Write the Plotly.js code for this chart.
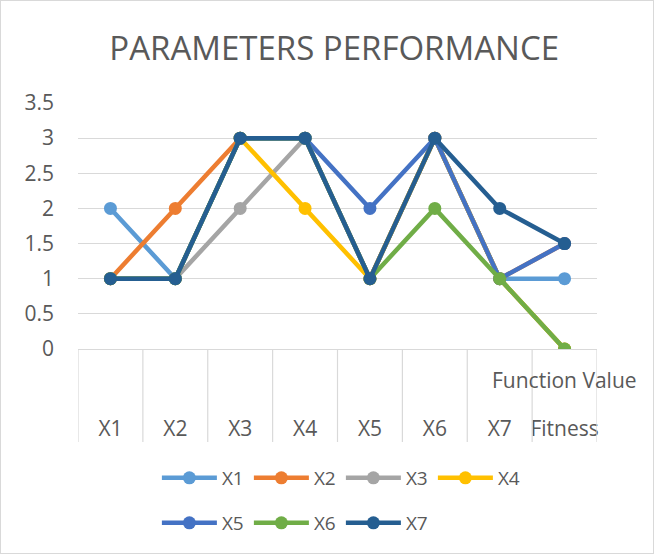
<!DOCTYPE html>
<html>
<head>
<meta charset="utf-8">
<script src="https://cdn.plot.ly/plotly-3.0.1.min.js"></script>
<style>
  html, body { margin: 0; padding: 0; background: #ffffff; }
  #wrap { position: relative; width: 654px; height: 554px; }
  #chart { width: 654px; height: 554px; }
  #frame { position: absolute; left: 0; top: 0; width: 652px; height: 552px; border: 1px solid #d9d9d9; pointer-events: none; }
</style>
</head>
<body>
<div id="wrap"><div id="chart"></div><div id="frame"></div></div>
<script>
// Data
const categories = ["X1", "X2", "X3", "X4", "X5", "X6", "X7", "Function Value Fitness"];
const tickLabels = ["X1", "X2", "X3", "X4", "X5", "X6", "X7", "Fitness"];
const upperLabel = "Function Value";
const seriesNames = ["X1", "X2", "X3", "X4", "X5", "X6", "X7"];
const seriesX1 = [2, 1, 3, 3, 1, 3, 1, 1];
const seriesX2 = [1, 2, 3, 3, 1, 3, 1, 1.5];
const seriesX3 = [1, 1, 2, 3, 1, 3, 1, 0];
const seriesX4 = [1, 1, 3, 2, 1, 3, 1, 0];
const seriesX5 = [1, 1, 3, 3, 2, 3, 1, 1.5];
const seriesX6 = [1, 1, 3, 3, 1, 2, 1, 0];
const seriesX7 = [1, 1, 3, 3, 1, 3, 2, 1.5];
const seriesValues = [seriesX1, seriesX2, seriesX3, seriesX4, seriesX5, seriesX6, seriesX7];
const colors = ["#5B9BD5", "#ED7D31", "#A5A5A5", "#FFC000", "#4472C4", "#70AD47", "#255E91"];

const FONT = "'Open Sans', 'DejaVu Sans', sans-serif";
const TXT = "#595959";

const traces = seriesNames.map((name, i) => ({
  type: "scatter",
  mode: "lines+markers",
  name: name,
  x: categories,
  y: seriesValues[i],
  line: { color: colors[i], width: 4.5 },
  marker: { color: colors[i], size: 13, symbol: "circle" },
  legend: i < 4 ? "legend" : "legend2"
}));

// category divider lines below the axis
const dividers = [];
for (let i = 0; i <= categories.length; i++) {
  dividers.push({
    type: "line", xref: "x", yref: "paper",
    x0: i - 0.5, x1: i - 0.5, y0: 0, y1: -93 / 246,
    line: { color: "#d9d9d9", width: 1.2 }
  });
}

const legendCommon = {
  orientation: "h",
  font: { family: FONT, size: 19, color: TXT },
  xanchor: "left",
  yanchor: "middle",
  bgcolor: "rgba(0,0,0,0)",
  itemwidth: 55,
  entrywidth: 22,
  entrywidthmode: "pixels",
  tracegroupgap: 0
};

const layout = {
  width: 654,
  height: 554,
  margin: { l: 78, r: 57, t: 103, b: 205 },
  paper_bgcolor: "#ffffff",
  plot_bgcolor: "#ffffff",
  showlegend: true,
  title: {
    text: "PARAMETERS PERFORMANCE",
    font: { family: FONT, size: 33, color: TXT },
    x: 0.511, xanchor: "center",
    y: 0.912, yanchor: "middle"
  },
  xaxis: {
    type: "category",
    range: [-0.5, categories.length - 0.5],
    tickmode: "array",
    tickvals: categories,
    ticktext: tickLabels,
    showgrid: false,
    zeroline: false,
    showline: true,
    linecolor: "#d9d9d9",
    linewidth: 1.2,
    ticks: "",
    tickangle: 0,
    ticklabelstandoff: 61,
    tickfont: { family: FONT, size: 21, color: TXT }
  },
  yaxis: {
    range: [0, 3.5],
    dtick: 0.5,
    tick0: 0,
    showgrid: true,
    gridcolor: "#d9d9d9",
    gridwidth: 1.2,
    zeroline: false,
    showline: false,
    ticks: "",
    ticklabelstandoff: 23,
    tickfont: { family: FONT, size: 21, color: TXT }
  },
  shapes: dividers,
  annotations: [{
    text: upperLabel,
    xref: "x", yref: "paper",
    x: categories[categories.length - 1], y: -31 / 246,
    xanchor: "center", yanchor: "middle",
    showarrow: false,
    font: { family: FONT, size: 21, color: TXT }
  }],
  legend: Object.assign({}, legendCommon, { x: 0.152, y: -0.5244 }),
  legend2: Object.assign({}, legendCommon, { x: 0.152, y: -0.7073 })
};

Plotly.newPlot("chart", traces, layout, { staticPlot: true, displayModeBar: false });
</script>
</body>
</html>
